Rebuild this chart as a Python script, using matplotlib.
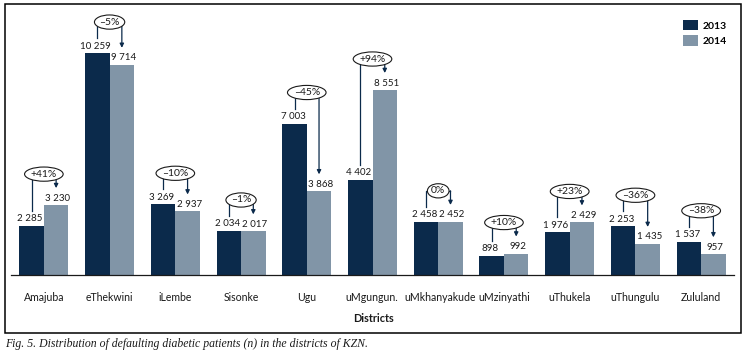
import matplotlib
matplotlib.use('Agg')
import matplotlib.pyplot as plt
from matplotlib.patches import Rectangle
from matplotlib.transforms import ScaledTranslation
import numpy as np

# data
districts = ['Amajuba', 'eThekwini', 'iLembe', 'Sisonke', 'Ugu', 'uMgungun.',
             'uMkhanyakude', 'uMzinyathi', 'uThukela', 'uThungulu', 'Zululand']
patients_2013 = [2285, 10259, 3269, 2034, 7003, 4402, 2458, 898, 1976, 2253, 1537]
patients_2014 = [3230, 9714, 2937, 2017, 3868, 8551, 2452, 992, 2429, 1435, 957]
changes = ['+41%', '–5%', '–10%', '–1%', '–45%', '+94%', '0%', '+10%', '+23%',
           '–36%', '–38%']

col_2013 = '#0b2a4b'
col_2014 = '#8195a7'
txt = '#1a1a1a'

plt.rcParams['font.family'] = ['Lato', 'DejaVu Sans']

W, H = 746, 356
fig = plt.figure(figsize=(W / 100, H / 100), dpi=100)
ax_left, ax_right, ax_bottom, ax_top = 11, 734, 275, 10
ax = fig.add_axes([ax_left / W, (H - ax_bottom) / H,
                   (ax_right - ax_left) / W, (ax_bottom - ax_top) / H])

ymax = 12250
ax.set_ylim(0, ymax)
ax.set_xlim(-0.5, len(districts) - 0.5)
# data units per pixel, for the small offsets of labels and brackets
dpp = ymax / (ax_bottom - ax_top)
xpp = len(districts) / (ax_right - ax_left)

x = np.arange(len(districts))
w = 0.373
ax.bar(x - w / 2, patients_2013, w, color=col_2013, label='2013')
ax.bar(x + w / 2, patients_2014, w, color=col_2014, label='2014')

def fmt(v):
    return f'{v:,}'.replace(',', ' ')

for i, (a, b, c) in enumerate(zip(patients_2013, patients_2014, changes)):
    xa, xb = i - w / 2, i + w / 2
    la = a + 7 * dpp
    lb = b + 7 * dpp
    ax.text(xa - 1.5 * xpp, la, fmt(a), ha='center', va='center', fontsize=7,
            color=txt)
    ax.text(xb + 1.5 * xpp, lb, fmt(b), ha='center', va='center', fontsize=7,
            color=txt)
    top = max(la, lb) + 24 * dpp
    ax.plot([xa, xa, xb], [la + 8 * dpp, top, top], color=col_2013, lw=0.9)
    ax.annotate('', xy=(xb, lb + 10 * dpp), xytext=(xb, top),
                arrowprops=dict(arrowstyle='-|>', color=col_2013, lw=0.9,
                                mutation_scale=6, shrinkA=0, shrinkB=0))
    ax.text(i, top, c, ha='center', va='center', fontsize=7.5,
            color=txt, zorder=5,
            bbox=dict(boxstyle='ellipse,pad=0.05', fc='white', ec=txt,
                      lw=0.8))

ax.set_xticks(x)
ax.set_xticklabels(districts, fontsize=7.6, color=txt)
ax.tick_params(axis='x', length=0, pad=12)
# small nudges of crowded labels, as in the original
nudge = {'uMgungun.': -1, 'uMkhanyakude': 2}
for lbl in ax.get_xticklabels():
    dx = nudge.get(lbl.get_text(), 0)
    if dx:
        lbl.set_transform(lbl.get_transform() +
                          ScaledTranslation(dx / 100, 0, fig.dpi_scale_trans))
ax.set_yticks([])
for s in ['top', 'left', 'right']:
    ax.spines[s].set_visible(False)
ax.spines['bottom'].set_color(txt)
ax.spines['bottom'].set_linewidth(0.9)

fig.text(374 / W, 1 - 318 / H, 'Districts', ha='center', va='center',
         fontsize=7.8, fontweight='bold', color=txt)

ax.legend(loc='upper left', bbox_to_anchor=(683 / W, 1 - 20 / H),
          bbox_transform=fig.transFigure, frameon=False, borderpad=0,
          borderaxespad=0, handlelength=1.45, handleheight=1.15,
          labelspacing=0.45, handletextpad=0.4,
          prop={'size': 7.5, 'weight': 'bold'})

fig.patches.append(Rectangle((5 / W, (H - 333) / H), 736 / W, 329 / H,
                             transform=fig.transFigure, fill=False,
                             ec='black', lw=1.1))

fig.text(5 / W, 1 - 344 / H,
         'Fig. 5. Distribution of defaulting diabetic patients (n) in the districts of KZN.',
         ha='left', va='center', fontsize=8.5, style='italic',
         family='Liberation Serif', color=txt)

fig.savefig('out.png', dpi=100)
